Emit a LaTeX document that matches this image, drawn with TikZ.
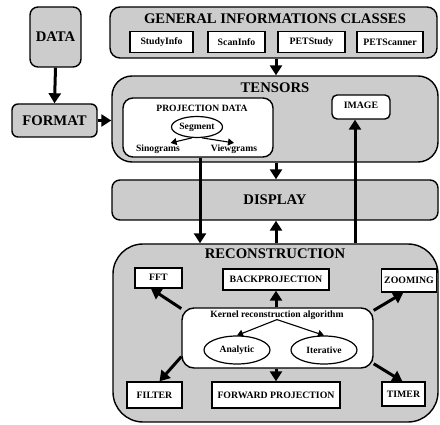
\documentclass[tikz,border=0pt]{standalone}
\usepackage{fontspec}
\setmainfont{Liberation Serif}
\usetikzlibrary{arrows.meta,shapes.geometric,calc}
\definecolor{boxgray}{HTML}{CCCCCC}
\begin{document}
\begin{tikzpicture}[x=1pt,y=-1pt,
  graybox/.style={draw,line width=1.4pt,fill=boxgray,inner sep=0pt},
  whitebox/.style={draw,line width=1.4pt,fill=white,inner sep=0pt},
  sbox/.style={draw,line width=1.4pt,fill=white,inner sep=0pt,font=\fontsize{9.8}{11}\selectfont\bfseries},
  oval/.style={ellipse,draw,line width=1.2pt,fill=white,inner sep=0pt,font=\fontsize{9.6}{11}\selectfont\bfseries},
  bigtitle/.style={font=\fontsize{14.7}{17}\selectfont\bfseries,inner sep=0pt},
  smalltxt/.style={font=\fontsize{9.6}{11}\selectfont\bfseries,inner sep=0pt},
  bigarrow/.style={line width=3pt,-{Triangle[width=12pt,length=10pt]}},
  thinarrow/.style={line width=1.1pt,-{Triangle[width=7pt,length=6pt]}}
]
\useasboundingbox (0,0) rectangle (440,425);
% DATA / FORMAT
\node[graybox,rounded corners=8pt,minimum width=51pt,minimum height=60pt,font=\fontsize{14.7}{17}\selectfont\bfseries] (data) at (55.5,37) {DATA};
\node[graybox,rounded corners=6pt,minimum width=85pt,minimum height=33pt,font=\fontsize{14.7}{17}\selectfont\bfseries] (format) at (54.5,120.5) {FORMAT};
% GENERAL INFORMATIONS CLASSES
\node[graybox,rounded corners=10pt,minimum width=327pt,minimum height=51pt] (gic) at (273.5,32.5) {};
\node[bigtitle] (gict) at (275,19) {GENERAL INFORMATIONS CLASSES};
\node[sbox,minimum width=63pt,minimum height=21pt] (study) at (161.5,42) {StudyInfo};
\node[sbox,minimum width=57pt,minimum height=21pt] (scan) at (236.5,42) {ScanInfo};
\node[sbox,minimum width=67pt,minimum height=21pt] (petstudy) at (311.5,42) {PETStudy};
\node[sbox,minimum width=66pt,minimum height=21pt] (petscan) at (390,42) {PETScanner};
% TENSORS
\node[graybox,rounded corners=20pt,minimum width=326pt,minimum height=86pt] (tensors) at (275,119) {};
\node[bigtitle] (tensorst) at (275,88) {TENSORS};
\node[whitebox,rounded corners=10pt,minimum width=150pt,minimum height=59pt] (proj) at (198,127.5) {};
\node[smalltxt] (projt) at (202,108) {PROJECTION DATA};
\node[oval,minimum width=51pt,minimum height=21pt] (segment) at (197,127) {Segment};
\node[smalltxt,inner sep=1.5pt] (sino) at (158,149) {Sinograms};
\node[smalltxt,inner sep=1.5pt] (view) at (234,149) {Viewgrams};
\node[whitebox,rounded corners=5pt,minimum width=58pt,minimum height=24pt,font=\fontsize{9.8}{11}\selectfont\bfseries] (image) at (361,107) {\raisebox{3pt}{IMAGE}};
% DISPLAY
\node[graybox,rounded corners=8pt,minimum width=326pt,minimum height=40pt,font=\fontsize{14.7}{17}\selectfont\bfseries] (display) at (275,200) {DISPLAY};
% RECONSTRUCTION
\node[graybox,rounded corners=30pt,minimum width=325pt,minimum height=178pt] (recon) at (275.5,333) {};
\node[bigtitle] (recont) at (275,254) {RECONSTRUCTION};
\node[sbox,minimum width=47pt,minimum height=20pt] (fft) at (158.5,278) {\raisebox{2pt}{FFT}};
\node[sbox,minimum width=106pt,minimum height=21pt] (bp) at (276,279.5) {BACKPROJECTION};
\node[sbox,minimum width=55pt,minimum height=23pt] (zoom) at (409,280.5) {ZOOMING};
\node[whitebox,rounded corners=12pt,minimum width=191pt,minimum height=60pt] (kernel) at (277.5,338) {};
\node[smalltxt] (kernelt) at (277,315) {Kernel reconstruction algorithm};
\node[oval,minimum width=66pt,minimum height=28pt] (analytic) at (237,350) {Analytic};
\node[oval,minimum width=66pt,minimum height=28pt] (iterative) at (324,350) {Iterative};
\node[sbox,minimum width=55pt,minimum height=26pt] (filter) at (154.5,395) {FILTER};
\node[sbox,minimum width=128pt,minimum height=26pt] (fp) at (276,395) {FORWARD PROJECTION};
\node[sbox,minimum width=43pt,minimum height=24pt] (timer) at (403.5,394) {TIMER};
% x positions for vertical connectors
\coordinate (x200) at (200,0);
\coordinate (x276) at (276,0);
\coordinate (x355) at (355,0);
% connectors
\draw[bigarrow] (data.south) -- (format.north);
\draw[bigarrow] (format.east) -- (tensors.west |- format.east);
\draw[bigarrow] (gic.south -| x276) -- (tensors.north -| x276);
\draw[bigarrow] (tensors.south -| x276) -- (display.north -| x276);
\draw[bigarrow] (proj.south -| x200) -- (recon.north -| x200);
\draw[bigarrow] (recon.north -| x276) -- (display.south -| x276);
\draw[bigarrow] (recon.north -| x355) -- (image.south -| x355);
\draw[thinarrow] (segment.245) -- ($(sino.north east)+(-11,0)$);
\draw[thinarrow] (segment.295) -- (view.north);
\draw[thinarrow] (kernelt.south) -- (analytic.north);
\draw[thinarrow] (kernelt.south) -- (iterative.north);
\draw[bigarrow] (kernel.163) -- (fft.235);
\draw[bigarrow] (kernel.191) -- (filter.70);
\draw[bigarrow] (kernel.16) -- (zoom.245);
\draw[bigarrow] (kernel.345) -- (timer.95);
\draw[bigarrow] (kernel.north -| bp.south) -- (bp.south);
\draw[bigarrow] (kernel.south -| fp.north) -- (fp.north);
\end{tikzpicture}
\end{document}
